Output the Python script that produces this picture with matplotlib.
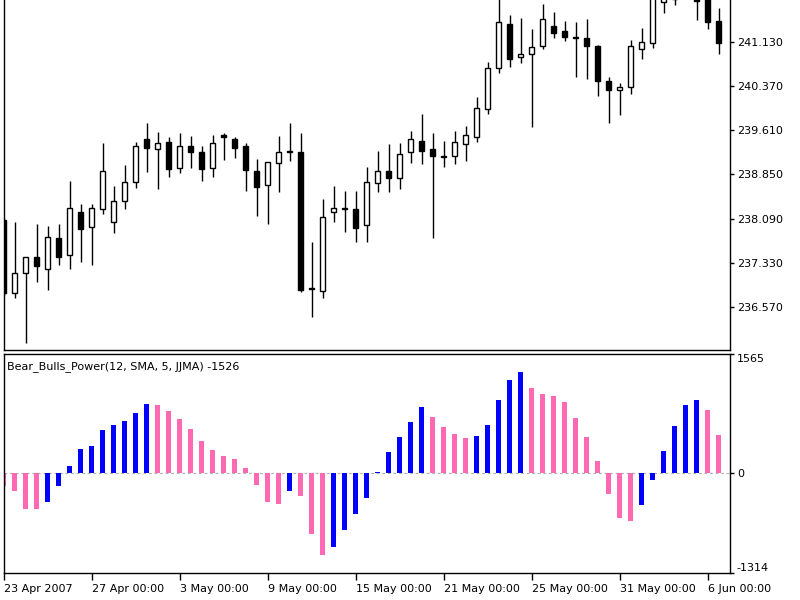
#!/usr/bin/env python3
'''
H12 candles with the Bear_Bulls_Power histogram underneath (MetaTrader look)
'''
import numpy as np
import matplotlib
matplotlib.use('Agg')
import matplotlib.pyplot as plt
from matplotlib.transforms import blended_transform_factory

# price bars, one per 12 hours
opens = [238.064, 236.804, 237.148, 237.423, 237.222, 237.755, 237.463, 238.207, 237.939, 238.259,
         238.025, 238.391, 238.718, 239.452, 239.280, 239.411, 238.953, 239.337, 239.239, 238.953,
         239.526, 239.452, 239.342, 238.907, 238.666, 239.039, 239.259, 239.239, 236.892, 236.844,
         238.197, 238.270, 238.248, 237.978, 238.695, 238.912, 238.781, 239.228, 239.428, 239.285,
         239.173, 239.165, 239.371, 239.486, 239.968, 240.673, 241.434, 240.862, 240.919, 241.056,
         241.400, 241.319, 241.206, 241.199, 241.061, 240.454, 240.300, 240.346, 241.004, 241.103,
         241.820, 241.860, 242.250, 242.100, 241.950, 241.491]
highs = [238.099, 238.035, 237.433, 237.990, 237.966, 237.990, 238.735, 238.339, 238.339, 239.383,
         238.649, 239.010, 239.400, 239.737, 239.572, 239.497, 239.555, 239.509, 239.337, 239.526,
         239.565, 239.497, 239.383, 239.108, 239.056, 239.509, 239.737, 239.565, 237.681, 238.420,
         238.649, 238.563, 238.563, 238.981, 239.251, 239.366, 239.383, 239.600, 239.882, 239.555,
         239.428, 239.600, 239.686, 240.184, 240.776, 241.870, 241.589, 241.532, 241.343, 241.773,
         241.636, 241.491, 241.464, 241.515, 241.075, 240.518, 240.425, 241.159, 241.371, 242.050,
         242.250, 242.350, 242.500, 242.300, 242.050, 241.704]
lows = [236.775, 236.718, 235.944, 237.003, 236.861, 237.291, 237.217, 237.337, 237.291, 238.167,
        237.836, 238.253, 238.609, 238.895, 238.592, 238.809, 238.878, 238.953, 238.735, 238.809,
        239.096, 239.135, 238.568, 238.138, 237.996, 238.541, 239.084, 236.821, 236.391, 236.728,
        238.025, 237.853, 237.691, 237.691, 238.541, 238.541, 238.592, 239.039, 239.022, 237.760,
        238.970, 239.022, 239.084, 239.411, 239.887, 240.597, 240.700, 240.759, 239.658, 240.999,
        241.199, 241.147, 240.528, 240.484, 240.196, 239.727, 239.870, 240.226, 240.833, 241.027,
        241.618, 241.761, 241.950, 241.503, 241.343, 240.913]
closes = [236.804, 237.158, 237.423, 237.273, 237.777, 237.433, 238.276, 237.910, 238.276, 238.912,
          238.396, 238.723, 239.337, 239.307, 239.383, 238.941, 239.337, 239.228, 238.941, 239.383,
          239.500, 239.307, 238.924, 238.637, 239.056, 239.239, 239.242, 236.861, 236.875, 238.121,
          238.265, 238.260, 237.932, 238.723, 238.912, 238.781, 239.194, 239.452, 239.256, 239.165,
          239.156, 239.400, 239.526, 239.995, 240.683, 241.464, 240.833, 240.919, 241.034, 241.515,
          241.285, 241.206, 241.194, 241.056, 240.459, 240.300, 240.356, 241.061, 241.130, 241.933,
          242.150, 242.250, 242.400, 241.830, 241.474, 241.113]

# indicator values
power = [-175, -237, -469, -470, -382, -175, 88, 308, 356, 562,
         632, 685, 782, 905, 883, 813, 703, 575, 417, 299,
         220, 180, 58, -162, -382, -403, -237, -307, -798, -1084,
         -975, -745, -544, -324, 15, 277, 466, 672, 869, 738,
         598, 506, 453, 487, 632, 957, 1212, 1322, 1119, 1032,
         1014, 927, 720, 466, 158, -281, -593, -632, -425, -96,
         290, 611, 887, 957, 826, 500]

price_ticks = [236.570, 237.330, 238.090, 238.850, 239.610, 240.370, 241.130]
power_ticks = [-1314, 0, 1565]
date_ticks = [0, 8, 16, 24, 32, 40, 48, 56, 64]
date_labels = ['23 Apr 2007', '27 Apr 00:00', '3 May 00:00', '9 May 00:00', '15 May 00:00',
               '21 May 00:00', '25 May 00:00', '31 May 00:00', '6 Jun 00:00']
indicator_name = 'Bear_Bulls_Power(12, SMA, 5, JJMA) -1526'

BLUE = '#0000ff'
PINK = '#ff69b4'


def draw_candles(ax):
    '''
    wicks as lines, bodies as bars: white when up, black when down
    '''
    x = np.arange(len(opens))
    o = np.array(opens)
    c = np.array(closes)
    ax.vlines(x, lows, highs, color='black', lw=1.0, zorder=2)
    up = c >= o
    colors = np.where(up, 'white', 'black')
    ax.bar(x, np.abs(c - o), bottom=np.minimum(o, c), width=0.5,
           color=colors, edgecolor='black', linewidth=1.0, zorder=3)


def draw_power(ax):
    '''
    histogram, blue when rising against the previous bar, pink otherwise
    '''
    x = np.arange(len(power))
    v = np.array(power)
    rising = np.concatenate([[False], v[1:] > v[:-1]])
    colors = np.where(rising, BLUE, PINK)
    ax.axhline(0, color='#b0b0b0', lw=0.8, ls=(0, (2.5, 2.5)), zorder=1)
    ax.bar(x, v, width=0.45, color=colors, linewidth=0, zorder=2)


def style_axes(ax):
    for side in ['left', 'right', 'top', 'bottom']:
        ax.spines[side].set_color('black')
        ax.spines[side].set_linewidth(1.0)
    ax.yaxis.tick_right()
    ax.tick_params(axis='y', direction='out', length=3, width=1, pad=2, labelsize=8)


def main():
    plt.rcParams['font.family'] = ['DejaVu Sans']
    fig = plt.figure(figsize=(8, 6), dpi=100)
    xlim = (-0.02, -0.02 + 726.5 / 11)

    # price panel, its top edge runs off the picture
    ax1 = fig.add_axes([3.5 / 800, 250 / 600, 726.5 / 800, 350 / 600])
    draw_candles(ax1)
    ax1.set_xlim(*xlim)
    ax1.set_ylim(235.83, 241.847)
    style_axes(ax1)
    ax1.spines['top'].set_visible(False)
    ax1.set_xticks([])
    ax1.set_yticks(price_ticks)
    ax1.set_yticklabels([f'{t:.3f}' for t in price_ticks])
    trans = blended_transform_factory(ax1.transAxes, ax1.transData)
    ax1.text(1.0, 241.89, '\u2013241.890', transform=trans, ha='left', va='center',
             fontsize=8, clip_on=False)

    # indicator panel
    ax2 = fig.add_axes([3.5 / 800, 27 / 600, 726.5 / 800, 219.5 / 600])
    draw_power(ax2)
    ax2.set_xlim(*xlim)
    ax2.set_ylim(power_ticks[0], power_ticks[-1])
    style_axes(ax2)
    ax2.set_yticks(power_ticks)
    ax2.set_yticklabels([str(t) for t in power_ticks])
    labels = ax2.get_yticklabels()
    labels[0].set_va('bottom')
    labels[2].set_va('top')
    ax2.set_xticks(date_ticks)
    ax2.set_xticklabels(date_labels, ha='left')
    ax2.tick_params(axis='x', direction='out', length=5, width=1, pad=3, labelsize=8)
    ax2.text(0.0052, 0.94, indicator_name, transform=ax2.transAxes, ha='left',
             va='center', fontsize=8)

    fig.savefig('out.png', dpi=100, facecolor='white')


if __name__ == '__main__':
    main()
